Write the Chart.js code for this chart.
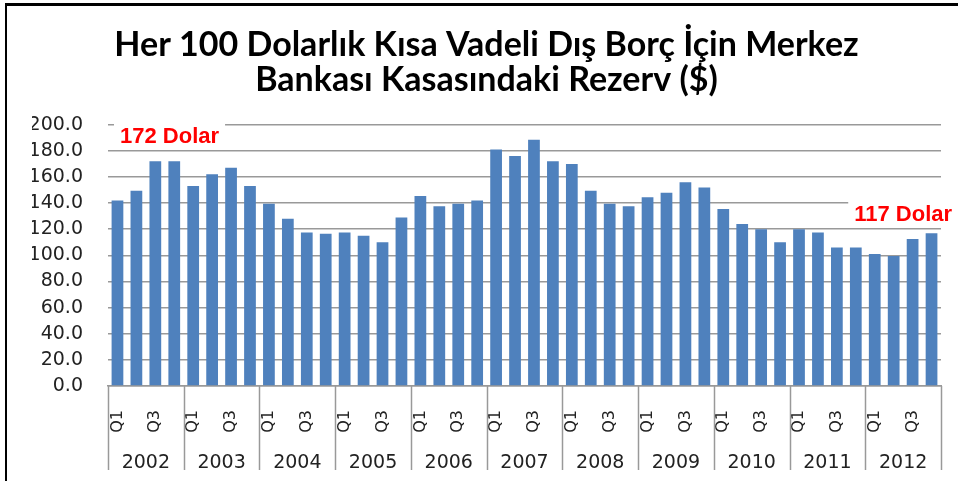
<!DOCTYPE html>
<html>
<head>
<meta charset="utf-8">
<script src="https://cdn.jsdelivr.net/npm/chart.js@4"></script>
<style>
  html, body { margin: 0; padding: 0; background: #fff; }
  #wrap { position: relative; width: 958px; height: 481px; overflow: hidden; }
  #frame { position: absolute; left: 5px; top: 3px; right: -10px; bottom: -10px;
           border-left: 2px solid #000; border-top: 3px solid #000; pointer-events: none; }
</style>
</head>
<body>
<div id="wrap">
  <canvas id="reserveChart" width="958" height="481"></canvas>
  <div id="frame"></div>
</div>
<script>
// chart data
var titleLines = ['Her 100 Dolarlık Kısa Vadeli Dış Borç İçin Merkez', 'Bankası Kasasındaki Rezerv ($)'];
var years = ['2002', '2003', '2004', '2005', '2006', '2007', '2008', '2009', '2010', '2011', '2012'];
var quarters = ['Q1', 'Q2', 'Q3', 'Q4'];
var reserve = [
  142, 149.5, 172, 172,
  153, 162, 167, 153,
  139.5, 128, 117.5, 116.5,
  117.5, 115, 110, 129,
  145.5, 137.5, 139.5, 142,
  181, 176, 188.5, 172,
  170, 149.5, 139.5, 137.5,
  144.5, 148, 156, 152,
  135.5, 124, 120, 110,
  120, 117.5, 106, 106,
  101, 99.5, 112.5, 117
];
// red call-outs: text, position on the category axis, value on the y axis
var notes = [
  { text: '172 Dolar', at: 2.75, value: 191.5 },
  { text: '117 Dolar', at: 41.5, value: 131.5 }
];

var labels = [];
years.forEach(function (y) {
  quarters.forEach(function (q) { labels.push(q); });
});

// vertical lines between the year groups
const yearDividers = {
  id: 'yearDividers',
  afterDraw(chart) {
    const x = chart.scales.x, x2 = chart.scales.x2, ctx = chart.ctx;
    ctx.save();
    ctx.strokeStyle = '#999';
    ctx.lineWidth = 1.5;
    for (let k = 0; k <= years.length; k++) {
      const px = Math.round(x.getPixelForValue(k * quarters.length - 0.5)) + 0.5;
      ctx.beginPath();
      ctx.moveTo(px, x.top);
      ctx.lineTo(px, x2.bottom - 11);
      ctx.stroke();
    }
    ctx.restore();
  }
};

const callouts = {
  id: 'callouts',
  afterDatasetsDraw(chart) {
    const ctx = chart.ctx;
    ctx.save();
    ctx.font = 'bold 22px "Liberation Sans", Arial, sans-serif';
    ctx.textAlign = 'center';
    ctx.textBaseline = 'middle';
    notes.forEach(function (n) {
      const cx = chart.scales.x.getPixelForValue(n.at);
      const cy = chart.scales.y.getPixelForValue(n.value);
      const w = ctx.measureText(n.text).width;
      ctx.fillStyle = '#fff';
      ctx.fillRect(cx - w / 2 - 6, cy - 15, w + 12, 28);
      ctx.fillStyle = '#ff0000';
      ctx.fillText(n.text, cx, cy + 1);
    });
    ctx.restore();
  }
};

// keep the x axes from widening the right margin
function fitX(h) {
  return function (s) {
    s.height = h;
    s.paddingLeft = 0;
    s.paddingRight = 0;
  };
}

const config = {
  type: 'bar',
  data: {
    labels: labels,
    datasets: [{
      label: 'Rezerv',
      data: reserve,
      backgroundColor: '#4F81BD',
      borderWidth: 0,
      barPercentage: 0.62,
      categoryPercentage: 1
    }]
  },
  options: {
    responsive: false,
    animation: false,
    layout: { padding: { left: 32, right: 17, top: 0, bottom: 0 } },
    plugins: {
      legend: { display: false },
      tooltip: { enabled: false },
      title: {
        display: true,
        text: titleLines,
        color: '#000',
        font: { family: 'Lato, "Open Sans", sans-serif', size: 34, weight: 'bold', lineHeight: 1.04 },
        padding: { top: 27, bottom: 27 }
      }
    },
    scales: {
      x: {
        offset: true,
        grid: { display: false },
        border: { display: true, color: '#999', width: 1.5 },
        ticks: {
          autoSkip: false,
          minRotation: 90,
          maxRotation: 90,
          padding: 16,
          color: '#222',
          font: { family: '"DejaVu Sans", Verdana, sans-serif', size: 16 },
          callback: function (value, index) {
            return (index % 2 == 0) ? quarters[index % 4] : '';
          }
        },
        afterFit: fitX(50)
      },
      x2: {
        type: 'category',
        labels: years,
        offset: true,
        position: 'bottom',
        grid: { display: false },
        border: { display: false },
        ticks: { padding: 8, color: '#222', font: { family: '"DejaVu Sans", Verdana, sans-serif', size: 19 }, autoSkip: false, maxRotation: 0 },
        afterFit: fitX(45)
      },
      y: {
        min: 0,
        max: 200,
        border: { display: false },
        grid: { color: '#999', lineWidth: 1.5, drawTicks: false },
        ticks: {
          stepSize: 20,
          autoSkip: false,
          padding: 25,
          color: '#222',
          font: { family: '"DejaVu Sans", Verdana, sans-serif', size: 19 },
          callback: function (v) { return v.toFixed(1); }
        },
        afterFit: function (s) { s.width = 76; }
      }
    }
  },
  plugins: [yearDividers, callouts]
};

new Chart(document.getElementById('reserveChart'), config);
</script>
</body>
</html>
